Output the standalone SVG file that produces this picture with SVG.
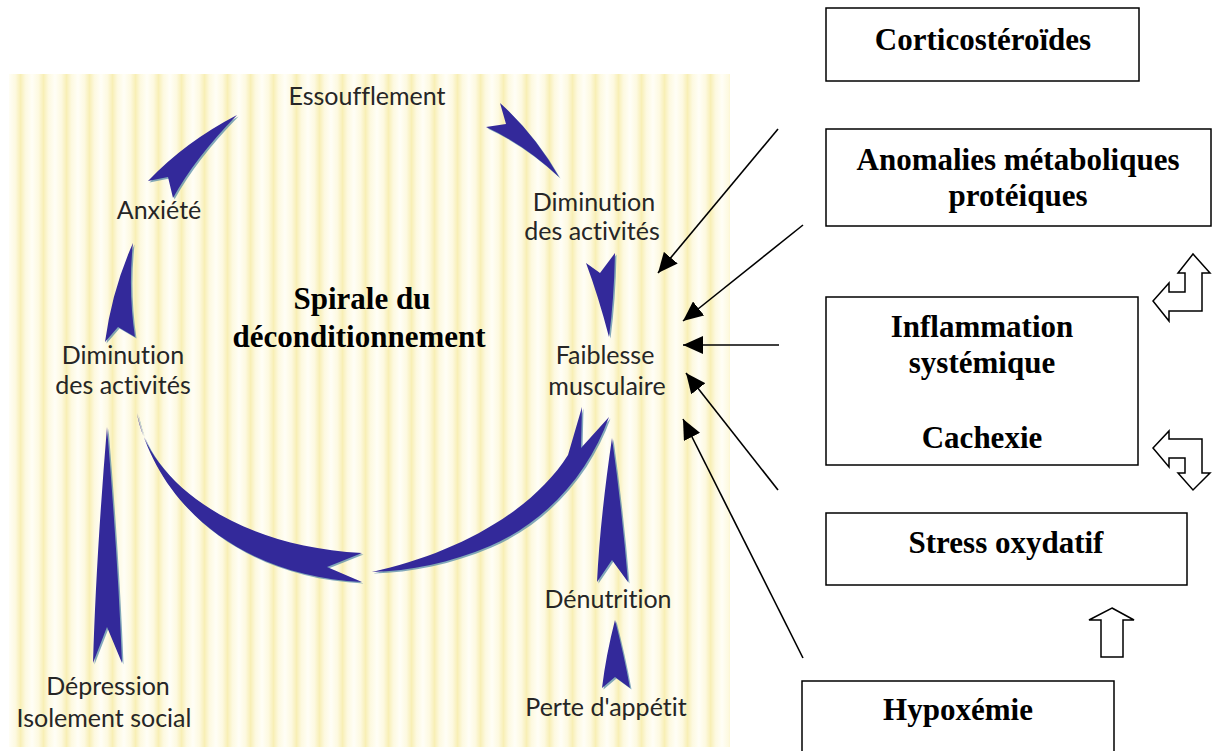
<svg xmlns="http://www.w3.org/2000/svg" width="1217" height="751" viewBox="0 0 1217 751">
  <defs>
    <linearGradient id="stripeGrad" x1="0" y1="0" x2="1" y2="0">
      <stop offset="0" stop-color="#fffef6"/>
      <stop offset="0.28" stop-color="#fdf9e0"/>
      <stop offset="0.5" stop-color="#f8efb6"/>
      <stop offset="0.72" stop-color="#fdf9e0"/>
      <stop offset="1" stop-color="#fffef6"/>
    </linearGradient>
    <pattern id="stripes" x="9" y="0" width="23" height="10" patternUnits="userSpaceOnUse">
      <rect width="23" height="10" fill="url(#stripeGrad)"/>
    </pattern>
    <marker id="head" markerUnits="userSpaceOnUse" markerWidth="22" markerHeight="18" refX="20" refY="9" orient="auto">
      <path d="M0,0 L20,9 L0,18 Z" fill="#000"/>
    </marker>
    <style>
      .lbl { font-family: Lato, "Liberation Sans", sans-serif; font-size: 25px; fill: #262626; text-anchor: middle; font-variant-ligatures: none; font-feature-settings: "liga" 0; }
      .title { font-family: "Liberation Serif", "Times New Roman", serif; font-weight: bold; font-size: 31px; fill: #000; text-anchor: middle; }
      .box { fill: #fff; stroke: #000; stroke-width: 1.5; }
      .dart { fill: #33299a; }
      .dart-edge { fill: #4f86a6; opacity: 0.7; }
      .conn { stroke: #000; stroke-width: 1.6; fill: none; marker-end: url(#head); }
      .hollow { fill: #fff; stroke: #000; stroke-width: 1.5; stroke-linejoin: miter; }
    </style>
  </defs>

  <rect width="1217" height="751" fill="#fff"/>

  <!-- striped panel of the spiral -->
  <g id="panel">
    <rect x="9" y="74" width="721" height="673" fill="url(#stripes)"/>
  </g>

  <!-- curved blue darts of the spiral -->
  <g id="spiral-arrows">
    <g transform="translate(1.5,1.5)" class="dart-edge">
      <path d="M237,115 Q185,142 148,181 L168,177 L173,198 Q195,158 237,115 Z"/>
      <path d="M500,103 Q535,135 559,177 Q525,145 486,127 L506,124 Z"/>
      <path d="M586,263 L600,273 L615,253 Q614,300 609,337 Q598,295 586,263 Z"/>
      <path d="M133,243 Q112,290 105,342 L118,327 L135,337 Q128,290 133,243 Z"/>
      <path d="M107,427 Q96,560 93,663 L107,627 L122,663 Q118,560 107,427 Z"/>
      <path d="M137,413 C145,470 220,545 362,553 L327,567 L362,582 C238,576 157,503 137,413 Z"/>
      <path d="M372,572 C450,555 530,515 568,455 L582,407 L581,448 L609,417 C590,470 550,520 490,546 C450,563 410,571 372,572 Z"/>
      <path d="M612,438 Q600,520 597,582 L612,560 L628,582 Q622,510 612,438 Z"/>
      <path d="M615,620 Q606,655 602,688 L615,677 L630,688 Q624,655 615,620 Z"/>
    </g>
    <g class="dart">
      <path id="dart-anxiete" d="M237,115 Q185,142 148,181 L168,177 L173,198 Q195,158 237,115 Z"/>
      <path id="dart-essouff" d="M500,103 Q535,135 559,177 Q525,145 486,127 L506,124 Z"/>
      <path id="dart-dimin-r" d="M586,263 L600,273 L615,253 Q614,300 609,337 Q598,295 586,263 Z"/>
      <path id="dart-dimin-l" d="M133,243 Q112,290 105,342 L118,327 L135,337 Q128,290 133,243 Z"/>
      <path id="dart-depress" d="M107,427 Q96,560 93,663 L107,627 L122,663 Q118,560 107,427 Z"/>
      <path id="arc-left" d="M137,413 C145,470 220,545 362,553 L327,567 L362,582 C238,576 157,503 137,413 Z"/>
      <path id="arc-right" d="M372,572 C450,555 530,515 568,455 L582,407 L581,448 L609,417 C590,470 550,520 490,546 C450,563 410,571 372,572 Z"/>
      <path id="dart-denut" d="M612,438 Q600,520 597,582 L612,560 L628,582 Q622,510 612,438 Z"/>
      <path id="dart-appetit" d="M615,620 Q606,655 602,688 L615,677 L630,688 Q624,655 615,620 Z"/>
    </g>
  </g>

  <!-- spiral labels -->
  <g id="n-essoufflement"><text class="lbl" x="367" y="105">Essoufflement</text></g>
  <g id="n-anxiete"><text class="lbl" x="159" y="219">Anxiété</text></g>
  <g id="n-diminution-droite">
    <text class="lbl" x="594" y="211">Diminution</text>
    <text class="lbl" x="592" y="240">des activités</text>
  </g>
  <g id="n-diminution-gauche">
    <text class="lbl" x="123" y="364">Diminution</text>
    <text class="lbl" x="123" y="394">des activités</text>
  </g>
  <g id="n-faiblesse">
    <text class="lbl" x="605" y="364">Faiblesse</text>
    <text class="lbl" x="607" y="395">musculaire</text>
  </g>
  <g id="n-denutrition"><text class="lbl" x="608" y="608">Dénutrition</text></g>
  <g id="n-appetit"><text class="lbl" x="606" y="716">Perte d'appétit</text></g>
  <g id="n-depression">
    <text class="lbl" x="108" y="695">Dépression</text>
    <text class="lbl" x="104" y="727">Isolement social</text>
  </g>
  <g id="n-spirale">
    <text class="title" x="362" y="309">Spirale du</text>
    <text class="title" x="359" y="347">déconditionnement</text>
  </g>

  <!-- factor boxes -->
  <g id="n-corticosteroides">
    <rect class="box" x="826" y="8" width="313" height="73"/>
    <text class="title" x="983" y="50">Corticostéroïdes</text>
  </g>
  <g id="n-anomalies">
    <rect class="box" x="826" y="129" width="385" height="97"/>
    <text class="title" x="1018" y="170">Anomalies métaboliques</text>
    <text class="title" x="1018" y="206">protéiques</text>
  </g>
  <g id="n-inflammation">
    <rect class="box" x="826" y="297" width="312" height="168"/>
    <text class="title" x="982" y="337">Inflammation</text>
    <text class="title" x="982" y="373">systémique</text>
    <text class="title" x="982" y="448">Cachexie</text>
  </g>
  <g id="n-stress">
    <rect class="box" x="826" y="513" width="361" height="72"/>
    <text class="title" x="1006" y="553">Stress oxydatif</text>
  </g>
  <g id="n-hypoxemie">
    <path class="box" d="M802,760 L802,681 L1114,681 L1114,760"/>
    <text class="title" x="958" y="720">Hypoxémie</text>
  </g>

  <!-- connectors -->
  <g id="connectors">
    <line class="conn" x1="778" y1="129" x2="658" y2="273"/>
    <line class="conn" x1="803" y1="225" x2="683" y2="321"/>
    <line class="conn" x1="779" y1="345" x2="683" y2="345"/>
    <line class="conn" x1="778" y1="490" x2="686" y2="373"/>
    <line class="conn" x1="803" y1="658" x2="683" y2="419"/>
    <path class="hollow" d="M1153,301 L1169,283 L1169,292 L1185,292 L1185,273 L1178,273 L1193,254 L1210,273 L1202,273 L1202,311 L1169,311 L1169,321 Z"/>
    <path class="hollow" d="M1153,448 L1169,431 L1169,439 L1202,439 L1202,473 L1210,473 L1193,490 L1178,473 L1185,473 L1185,458 L1169,458 L1169,467 Z"/>
    <path class="hollow" d="M1112,608 L1134,620 L1123,620 L1123,657 L1101,657 L1101,620 L1089,620 Z"/>
  </g>
</svg>
